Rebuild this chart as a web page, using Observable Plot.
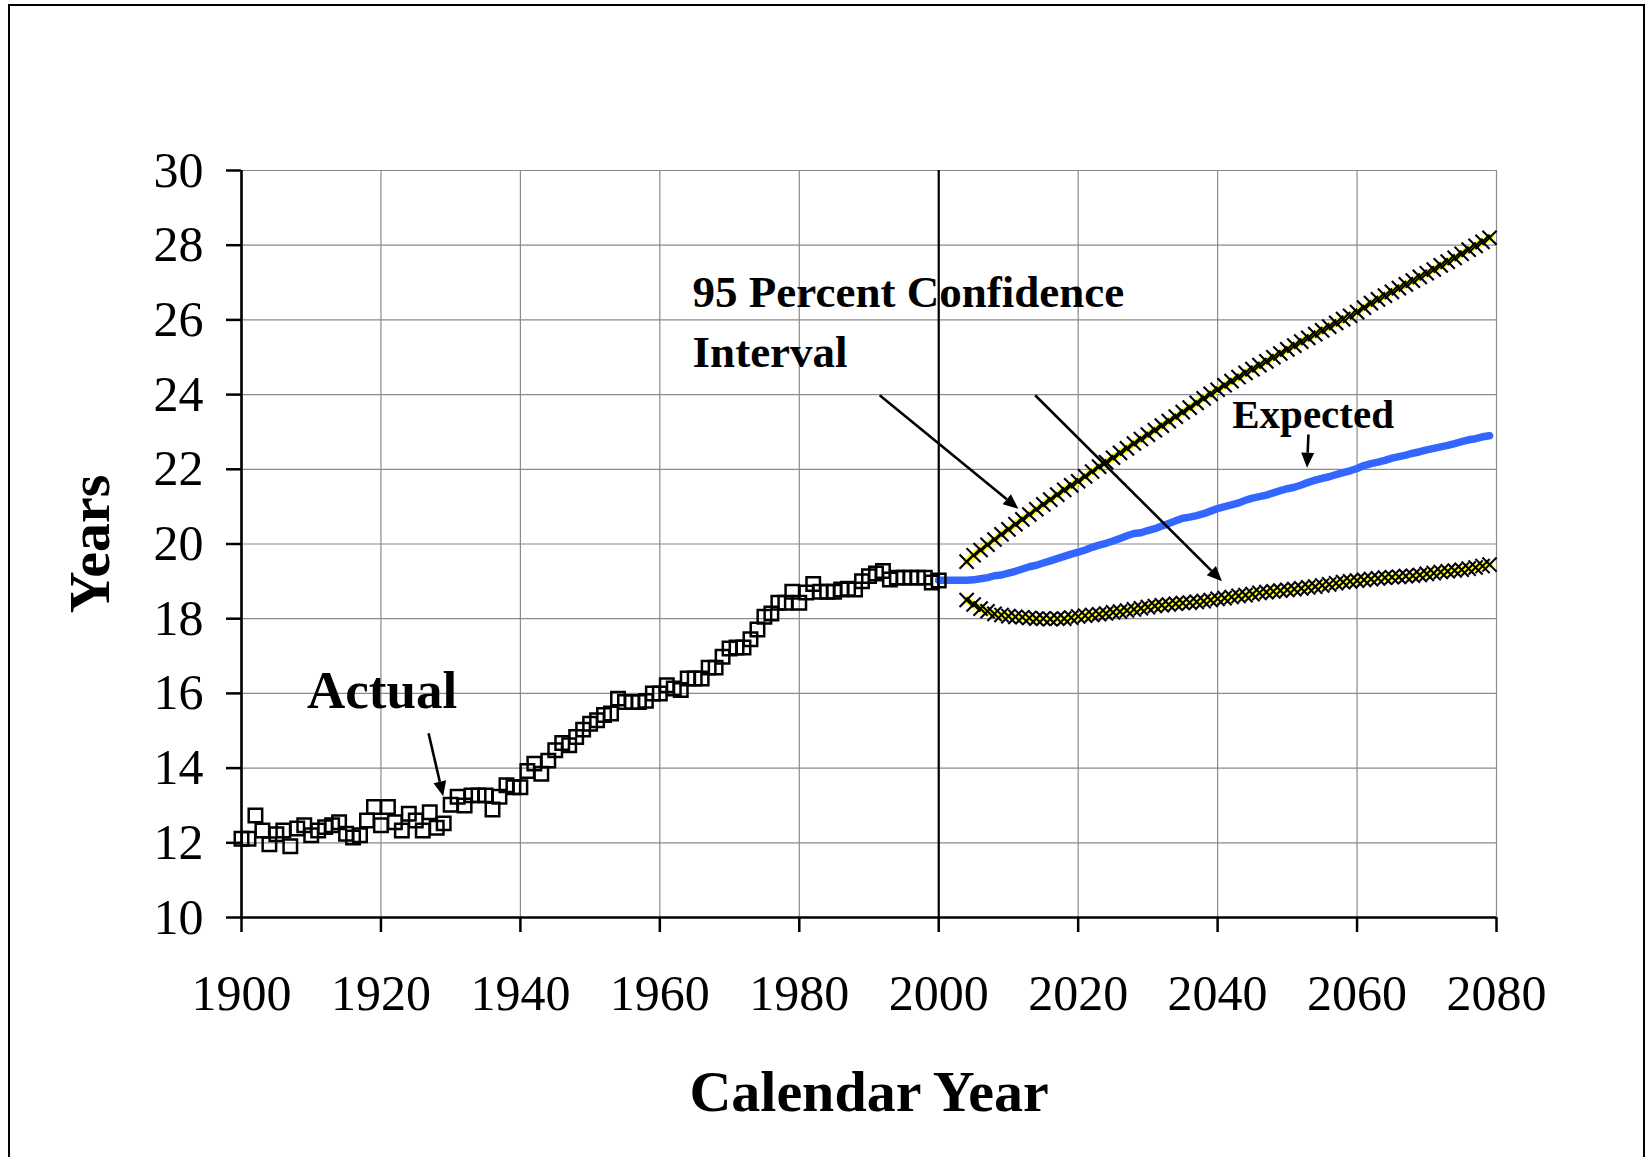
<!DOCTYPE html>
<html>
<head>
<meta charset="utf-8">
<script src="https://cdn.jsdelivr.net/npm/d3@7"></script>
<script src="https://cdn.jsdelivr.net/npm/@observablehq/plot@0.6"></script>
<style>
  html, body { margin: 0; padding: 0; background: #fff; overflow: hidden; }
  #wrap { position: relative; width: 1651px; height: 1157px; }
  #border { position: absolute; left: 8px; top: 4px; width: 1637px; height: 1220px; border: 2.5px solid #000; box-sizing: border-box; pointer-events: none; }
</style>
</head>
<body>
<div id="wrap"><div id="border"></div></div>
<script>
// ---- Data ----
const actualYears = d3.range(1900, 2001);
const actualValues = [
  12.11, 12.11, 12.73, 12.33, 11.96, 12.23, 12.33, 11.91, 12.38, 12.47,
  12.20, 12.33, 12.42, 12.47, 12.55, 12.24, 12.14, 12.20, 12.60, 12.96,
  12.47, 12.96, 12.55, 12.33, 12.78, 12.60, 12.33, 12.82, 12.40, 12.52,
  13.02, 13.23, 13.00, 13.27, 13.27, 13.27, 12.89, 13.23, 13.54, 13.49,
  13.49, 13.92, 14.12, 13.85, 14.20, 14.48, 14.67, 14.61, 14.83, 15.03,
  15.19, 15.28, 15.42, 15.46, 15.86, 15.77, 15.77, 15.77, 15.80, 16.00,
  16.00, 16.22, 16.13, 16.09, 16.40, 16.40, 16.40, 16.69, 16.69, 16.98,
  17.20, 17.23, 17.23, 17.45, 17.71, 18.05, 18.14, 18.43, 18.43, 18.72,
  18.43, 18.70, 18.93, 18.72, 18.72, 18.72, 18.78, 18.80, 18.78, 19.00,
  19.14, 19.21, 19.28, 19.05, 19.10, 19.10, 19.10, 19.10, 19.10, 18.97,
  19.02
];

const expectedYears = d3.range(2000, 2080);
const expectedValues = [
  19.03, 19.03, 19.03, 19.03, 19.03, 19.04, 19.07, 19.10, 19.15, 19.17,
  19.22, 19.27, 19.33, 19.39, 19.43, 19.49, 19.55, 19.61, 19.67, 19.73,
  19.78, 19.84, 19.91, 19.97, 20.02, 20.08, 20.15, 20.22, 20.28, 20.30,
  20.36, 20.41, 20.48, 20.55, 20.62, 20.69, 20.72, 20.76, 20.81, 20.88,
  20.95, 21.00, 21.05, 21.10, 21.17, 21.23, 21.27, 21.31, 21.37, 21.43,
  21.48, 21.52, 21.58, 21.65, 21.71, 21.76, 21.80, 21.86, 21.91, 21.96,
  22.02, 22.10, 22.15, 22.19, 22.24, 22.30, 22.34, 22.38, 22.43, 22.47,
  22.52, 22.56, 22.60, 22.64, 22.69, 22.74, 22.79, 22.82, 22.87, 22.90
];

const ciYears = d3.range(2004, 2080);
const upperValues = [
  19.53, 19.70, 19.84, 19.98, 20.12, 20.26,
  20.39, 20.53, 20.66, 20.79, 20.93, 21.06, 21.19, 21.32, 21.45, 21.57,
  21.68, 21.81, 21.94, 22.07, 22.19, 22.31, 22.44, 22.56, 22.69, 22.81,
  22.93, 23.05, 23.17, 23.29, 23.41, 23.53, 23.65, 23.78, 23.90, 24.02,
  24.13, 24.25, 24.36, 24.47, 24.58, 24.68, 24.79, 24.89, 25.00, 25.10,
  25.21, 25.31, 25.42, 25.52, 25.62, 25.72, 25.82, 25.92, 26.02, 26.11,
  26.21, 26.33, 26.45, 26.55, 26.65, 26.75, 26.85, 26.95, 27.05, 27.15,
  27.25, 27.35, 27.46, 27.56, 27.66, 27.77, 27.88, 27.98, 28.09, 28.20
];
const lowerValues = [
  18.50, 18.38, 18.27, 18.20, 18.13, 18.10,
  18.07, 18.05, 18.04, 18.02, 18.00, 18.00, 17.99, 18.00, 18.00, 18.03,
  18.06, 18.08, 18.10, 18.12, 18.14, 18.17, 18.19, 18.22, 18.25, 18.28,
  18.31, 18.34, 18.36, 18.38, 18.40, 18.42, 18.43, 18.45, 18.47, 18.50,
  18.53, 18.55, 18.58, 18.61, 18.63, 18.66, 18.69, 18.71, 18.73, 18.75,
  18.77, 18.79, 18.81, 18.84, 18.86, 18.89, 18.92, 18.95, 18.98, 19.00,
  19.02, 19.04, 19.06, 19.08, 19.10, 19.11, 19.12, 19.14, 19.15, 19.17,
  19.20, 19.22, 19.25, 19.27, 19.29, 19.31, 19.34, 19.37, 19.41, 19.45
];

const xTicks = [1900, 1920, 1940, 1960, 1980, 2000, 2020, 2040, 2060, 2080];
const yTicks = [10, 12, 14, 16, 18, 20, 22, 24, 26, 28, 30];

// annotations (data units)
const labelTexts = ["95 Percent Confidence\nInterval", "Actual", "Expected"];
const labelX = [1964.7, 1909.4, 2042.1];
const labelY = [24.75, 15.6, 23.1];
const labelSize = [45, 53, 41];

const arrowX1 = [1926.9, 1991.6, 2013.9, 2053.1];
const arrowY1 = [14.92, 23.97, 23.97, 22.92];
const arrowX2 = [1929.0, 2011.5, 2040.7, 2052.9];
const arrowY2 = [13.23, 20.93, 18.99, 22.03];

// ---- build tables ----
const actual = actualYears.map((x, i) => ({x, y: actualValues[i]}));
const expected = expectedYears.map((x, i) => ({x, y: expectedValues[i]}));
const upper = ciYears.map((x, i) => ({x, y: upperValues[i]}));
const lower = ciYears.map((x, i) => ({x, y: lowerValues[i]}));
const labels = labelTexts.map((t, i) => ({t, x: labelX[i], y: labelY[i], s: labelSize[i]}));
const arrows = arrowX1.map((x1, i) => ({x1, y1: arrowY1[i], x2: arrowX2[i], y2: arrowY2[i]}));

function arrowHeads(index, scales) {
  const sx = scales.x, sy = scales.y;
  const g = d3.create("svg:g");
  for (const a of arrows) {
    const x1 = sx(a.x1), y1 = sy(a.y1), x2 = sx(a.x2), y2 = sy(a.y2);
    const ang = Math.atan2(y2 - y1, x2 - x1);
    const L = 15, W = 6.5;
    const bx = x2 - L * Math.cos(ang), by = y2 - L * Math.sin(ang);
    g.append("line").attr("x1", x1).attr("y1", y1).attr("x2", bx).attr("y2", by)
      .attr("stroke", "#000").attr("stroke-width", 2.6);
    const px = -Math.sin(ang) * W, py = Math.cos(ang) * W;
    g.append("path")
      .attr("d", `M${x2},${y2}L${bx + px},${by + py}L${bx - px},${by - py}Z`)
      .attr("fill", "#000");
  }
  return g.node();
}

const chart = Plot.plot({
  width: 1651,
  height: 1157,
  marginLeft: 241,
  marginRight: 155,
  marginTop: 170,
  marginBottom: 240,
  x: {domain: [1900, 2080]},
  y: {domain: [10, 30]},
  style: {fontFamily: "'Liberation Serif', 'Times New Roman', serif", fontSize: "50px", background: "white", color: "black"},
  marks: [
    Plot.gridX(xTicks, {stroke: "#8a8a8a", strokeOpacity: 1, strokeWidth: 1.2}),
    Plot.gridY(yTicks, {stroke: "#8a8a8a", strokeOpacity: 1, strokeWidth: 1.2}),
    Plot.ruleX([2000], {stroke: "#000", strokeWidth: 2.2}),
    Plot.axisX({ticks: xTicks, tickSize: 15, tickPadding: 42, tickFormat: d => String(d), label: null, stroke: "#000", strokeWidth: 2.5, fontSize: 50}),
    Plot.axisY({ticks: yTicks, tickSize: 15, tickPadding: 23, tickFormat: d => String(d), label: null, stroke: "#000", strokeWidth: 2.5, fontSize: 50}),
    Plot.ruleX([1900], {stroke: "#000", strokeWidth: 2.6}),
    Plot.ruleY([10], {stroke: "#000", strokeWidth: 2.6}),
    // confidence interval lines
    Plot.line(upper, {x: "x", y: "y", stroke: "#FFFF00", strokeWidth: 7}),
    Plot.line(lower, {x: "x", y: "y", stroke: "#FFFF00", strokeWidth: 7}),
    Plot.dot(upper, {x: "x", y: "y", symbol: "times", r: 6.5, stroke: "#000", strokeWidth: 2.1}),
    Plot.dot(lower, {x: "x", y: "y", symbol: "times", r: 6.5, stroke: "#000", strokeWidth: 2.1}),
    // expected
    Plot.line(expected, {x: "x", y: "y", stroke: "#3366FF", strokeWidth: 7.5}),
    // actual
    Plot.dot(actual, {x: "x", y: "y", symbol: "square", r: 7.6, stroke: "#000", strokeWidth: 2.5, fill: "none"}),
    // annotations
    Plot.text(labels, {x: "x", y: "y", text: "t", fontSize: "s", fontWeight: "bold", textAnchor: "start", lineAnchor: "bottom", lineHeight: 1.33, fill: "#000"}),
    arrowHeads,
    // axis titles
    Plot.text(["Calendar Year"], {text: d => d, frameAnchor: "bottom", textAnchor: "middle", lineAnchor: "bottom", dy: 193, fontSize: 58, fontWeight: "bold", fill: "#000"}),
    Plot.text(["Years"], {text: d => d, frameAnchor: "left", textAnchor: "middle", lineAnchor: "bottom", rotate: -90, dx: -133, fontSize: 58, fontWeight: "bold", fill: "#000"})
  ]
});
document.getElementById("wrap").appendChild(chart);
chart.style.position = "absolute";
chart.style.left = "0";
chart.style.top = "0";
chart.style.maxWidth = "none";
document.getElementById("wrap").appendChild(document.getElementById("border"));
</script>
</body>
</html>
